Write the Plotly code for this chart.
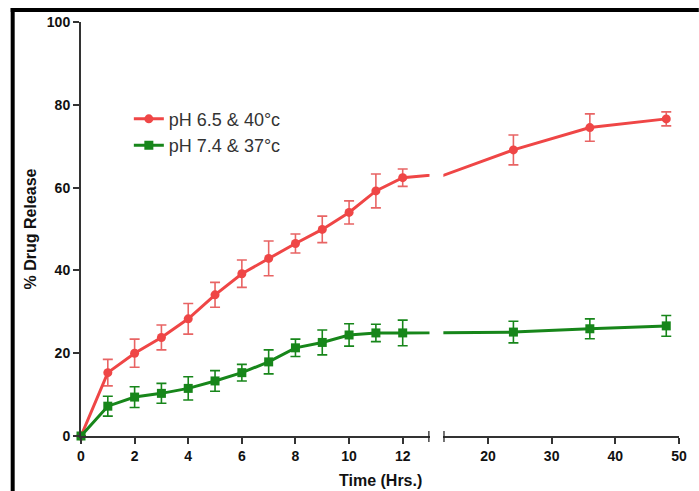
import plotly.graph_objects as go

time_hrs = [0, 1, 2, 3, 4, 5, 6, 7, 8, 9, 10, 11, 12, 24, 36, 48]
red_vals = [0, 15.3, 20.0, 23.8, 28.3, 34.1, 39.2, 42.9, 46.5, 49.9, 54.0, 59.2, 62.4, 69.1, 74.5, 76.6]
red_err = [0, 3.2, 3.4, 3.0, 3.7, 3.0, 3.3, 4.2, 2.3, 3.2, 2.8, 4.1, 2.1, 3.6, 3.3, 1.7]
green_vals = [0, 7.2, 9.4, 10.3, 11.5, 13.3, 15.3, 17.9, 21.3, 22.6, 24.4, 24.9, 24.9, 25.1, 25.9, 26.6]
green_err = [0, 2.4, 2.5, 2.4, 2.8, 2.5, 2.0, 2.9, 2.1, 3.0, 2.7, 2.1, 3.1, 2.6, 2.4, 2.5]

series_names = ["pH 6.5 & 40°c", "pH 7.4 & 37°c"]
y_ticks = [0, 20, 40, 60, 80, 100]
x1_ticks = [0, 2, 4, 6, 8, 10, 12]
x2_ticks = [20, 30, 40, 50]
break_at = 13

RED = "#ef4646"
RED_ERR = "#e86464"
GREEN = "#17861a"
FONT = "Arial, Liberation Sans, sans-serif"

fig = go.Figure()

for xa, show in (("x", True), ("x2", False)):
    fig.add_trace(go.Scatter(
        x=time_hrs, y=red_vals, xaxis=xa, yaxis="y",
        name=series_names[0], showlegend=show, legendrank=1,
        mode="lines+markers",
        line=dict(color=RED, width=3),
        marker=dict(color=RED, size=9, symbol="circle"),
        error_y=dict(type="data", array=red_err, color=RED_ERR, thickness=1.6, width=5),
        cliponaxis=False,
    ))
    fig.add_trace(go.Scatter(
        x=time_hrs, y=green_vals, xaxis=xa, yaxis="y",
        name=series_names[1], showlegend=show, legendrank=2,
        mode="lines+markers",
        line=dict(color=GREEN, width=3),
        marker=dict(color=GREEN, size=9, symbol="square"),
        error_y=dict(type="data", array=green_err, color=GREEN, thickness=1.6, width=5),
        cliponaxis=False,
    ))

W, H = 699, 491
L, R, T, B = 81, 14, 22, 55
pw = W - L - R
ph = H - T - B

def px(xp):
    return (xp - L) / pw

def py(yp):
    return (H - B - yp) / ph

tickfont = dict(family=FONT, size=14, color="#111111", weight="bold")
axis_common = dict(showgrid=False, zeroline=False, showline=True, linecolor="#333333",
                   linewidth=2, ticks="outside", ticklen=6, tickwidth=2, tickcolor="#333333",
                   tickfont=tickfont)

fig.update_layout(
    width=W, height=H,
    margin=dict(l=L, r=R, t=T, b=B),
    paper_bgcolor="white", plot_bgcolor="white",
    font=dict(family=FONT),
    xaxis=dict(domain=[0, px(433)], range=[0, break_at], tickvals=x1_ticks,
               anchor="y", **axis_common),
    xaxis2=dict(domain=[px(447), 1], range=[break_at, 50], tickvals=x2_ticks,
                anchor="y", **axis_common),
    yaxis=dict(range=[0, 100], tickvals=y_ticks, anchor="x",
               title=dict(text="% Drug Release", standoff=6,
                          font=dict(size=16, color="#111111", family=FONT, weight="bold")),
               **axis_common),
    legend=dict(x=0.08, y=0.81, xanchor="left", yanchor="top",
                bgcolor="rgba(0,0,0,0)", tracegroupgap=0,
                font=dict(size=18, color="#333333", family=FONT)),
    showlegend=True,
    annotations=[dict(text="Time (Hrs.)", xref="paper", yref="paper",
                      x=px(383), y=py(480), xanchor="center", yanchor="middle",
                      showarrow=False,
                      font=dict(size=16, color="#111111", family=FONT, weight="bold"))],
    shapes=[
        # axis break caps
        dict(type="line", xref="x", yref="paper", x0=break_at, x1=break_at,
             y0=py(442), y1=py(431), line=dict(color="#222222", width=2.5)),
        dict(type="line", xref="x2", yref="paper", x0=break_at, x1=break_at,
             y0=py(442), y1=py(431), line=dict(color="#222222", width=2.5)),
        # outer frame
        dict(type="line", xref="paper", yref="paper", x0=px(10), x1=px(705),
             y0=py(10), y1=py(10), line=dict(color="black", width=4)),
        dict(type="line", xref="paper", yref="paper", x0=px(12), x1=px(12),
             y0=py(8), y1=py(495), line=dict(color="black", width=4)),
    ],
)

fig.write_html("out.html", config={"displayModeBar": False},
               post_script="document.body.style.margin='0';")
